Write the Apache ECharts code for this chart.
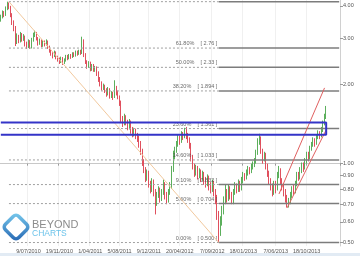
<!DOCTYPE html>
<html><head><meta charset="utf-8">
<script src="https://cdn.jsdelivr.net/npm/echarts@6/dist/echarts.min.js"></script>
<style>html,body{margin:0;padding:0;background:#fff}#c{width:360px;height:256px}</style>
</head><body><div id="c"></div>
<script>
// ---- data ----
const firstWeek = [2010, 2, 12];   // 12/03/2010, weekly bars (Fridays)
const weekCount = 209;
const tickLabels = ['9/07/2010','19/11/2010','1/04/2011','5/08/2011','9/12/2011','20/04/2012','7/09/2012','18/01/2013','7/06/2013','18/10/2013'];
const yTicks = [0.5,0.6,0.7,0.8,0.9,1,2,3,4];

const opens = [3.55,3.62,3.75,3.70,3.90,4.05,3.95,3.70,3.45,3.30,2.90,3.05,2.95,3.10,2.98,3.05,2.85,2.80,2.92,2.78,
2.95,3.10,3.15,3.00,2.88,2.95,2.82,2.90,2.85,2.92,2.78,2.70,2.62,2.58,2.66,2.55,2.50,2.45,2.52,2.42,
2.48,2.56,2.52,2.58,2.55,2.62,2.58,2.66,2.62,2.68,2.64,2.95,2.60,2.45,2.35,2.42,2.30,2.36,2.28,2.32,
2.22,2.10,2.02,1.95,1.98,1.90,1.86,1.92,1.82,1.85,1.80,1.95,1.88,1.80,1.72,1.48,1.42,1.50,1.45,1.38,
1.44,1.35,1.30,1.34,1.28,1.25,1.20,1.12,1.02,0.95,0.88,0.92,0.84,0.80,0.86,0.78,0.72,0.76,0.80,0.74,
0.78,0.84,0.76,0.73,0.78,0.82,0.95,1.08,1.12,1.18,1.25,1.22,1.30,1.27,1.33,1.28,1.24,1.18,1.06,0.98,
0.92,0.96,0.90,0.93,0.88,0.91,0.86,0.84,0.88,0.82,0.80,0.84,0.78,0.74,0.64,0.55,0.60,0.66,0.72,0.78,
0.74,0.80,0.76,0.72,0.78,0.82,0.79,0.84,0.80,0.86,0.90,0.88,0.92,0.95,0.93,0.97,0.99,1.02,1.10,1.22,
1.25,1.12,1.04,1.08,0.98,0.92,0.86,0.82,0.78,0.84,0.80,0.90,0.94,0.86,0.82,0.78,0.74,0.70,0.72,0.76,
0.80,0.78,0.84,0.90,0.88,0.94,0.98,0.96,1.02,1.08,1.05,1.14,1.18,1.22,1.19,1.26,1.30,1.27,1.34,1.42,1.50];
const closes = [3.62,3.75,3.70,3.90,4.05,3.95,3.70,3.45,3.30,2.90,3.05,2.95,3.10,2.98,3.05,2.85,2.80,2.92,2.78,2.95,
3.10,3.15,3.00,2.88,2.95,2.82,2.90,2.85,2.92,2.78,2.70,2.62,2.58,2.66,2.55,2.50,2.45,2.52,2.42,2.48,
2.56,2.52,2.58,2.55,2.62,2.58,2.66,2.62,2.68,2.64,2.95,2.60,2.45,2.35,2.42,2.30,2.36,2.28,2.32,2.22,
2.10,2.02,1.95,1.98,1.90,1.86,1.92,1.82,1.85,1.80,1.95,1.88,1.80,1.72,1.48,1.42,1.50,1.45,1.38,1.44,
1.35,1.30,1.34,1.28,1.25,1.20,1.12,1.02,0.95,0.88,0.92,0.84,0.80,0.86,0.78,0.72,0.76,0.80,0.74,0.78,
0.84,0.76,0.73,0.78,0.82,0.95,1.08,1.12,1.18,1.25,1.22,1.30,1.27,1.33,1.28,1.24,1.18,1.06,0.98,0.92,
0.96,0.90,0.93,0.88,0.91,0.86,0.84,0.88,0.82,0.80,0.84,0.78,0.74,0.64,0.55,0.60,0.66,0.72,0.78,0.74,
0.80,0.76,0.72,0.78,0.82,0.79,0.84,0.80,0.86,0.90,0.88,0.92,0.95,0.93,0.97,0.99,1.02,1.10,1.22,1.25,
1.12,1.04,1.08,0.98,0.92,0.86,0.82,0.78,0.84,0.80,0.90,0.94,0.86,0.82,0.78,0.74,0.70,0.72,0.76,0.80,
0.78,0.84,0.90,0.88,0.94,0.98,0.96,1.02,1.08,1.05,1.14,1.18,1.22,1.19,1.26,1.30,1.27,1.34,1.42,1.50,1.58];
const lows = [3.48,3.58,3.62,3.66,3.85,3.88,3.62,3.38,3.20,2.81,2.86,2.88,2.90,2.92,2.94,2.80,2.74,2.76,2.74,2.75,
2.92,3.04,2.95,2.82,2.84,2.78,2.79,2.80,2.82,2.74,2.65,2.58,2.52,2.55,2.50,2.45,2.40,2.42,2.38,2.40,
2.45,2.48,2.50,2.51,2.53,2.55,2.56,2.58,2.60,2.60,2.62,2.55,2.40,2.30,2.32,2.25,2.26,2.24,2.24,2.16,
2.05,1.97,1.90,1.91,1.86,1.80,1.82,1.77,1.78,1.75,1.78,1.82,1.76,1.66,1.44,1.38,1.40,1.40,1.34,1.35,
1.30,1.26,1.27,1.24,1.21,1.15,1.08,0.98,0.92,0.85,0.86,0.81,0.77,0.78,0.75,0.64,0.69,0.74,0.71,0.72,
0.76,0.73,0.70,0.71,0.76,0.80,0.93,1.04,1.10,1.16,1.18,1.20,1.23,1.25,1.24,1.20,1.14,1.02,0.95,0.89,
0.90,0.87,0.88,0.85,0.86,0.83,0.81,0.82,0.79,0.77,0.78,0.75,0.70,0.61,0.50,0.53,0.58,0.64,0.70,0.71,
0.72,0.73,0.70,0.70,0.76,0.77,0.78,0.78,0.79,0.84,0.86,0.87,0.90,0.91,0.92,0.95,0.97,1.00,1.08,1.18,
1.09,1.00,1.02,0.95,0.89,0.83,0.79,0.75,0.76,0.77,0.79,0.88,0.83,0.79,0.75,0.71,0.68,0.68,0.70,0.74,
0.76,0.77,0.82,0.86,0.87,0.92,0.93,0.95,1.00,1.02,1.04,1.12,1.16,1.16,1.18,1.24,1.24,1.26,1.32,1.40,1.48];
const highs = [3.70,3.84,3.82,3.98,4.15,4.12,4.00,3.75,3.52,3.35,3.14,3.10,3.18,3.15,3.12,3.08,2.92,2.98,2.96,3.02,
3.16,3.22,3.18,3.04,3.00,2.98,2.96,2.95,2.98,2.95,2.82,2.74,2.66,2.70,2.68,2.58,2.54,2.56,2.55,2.52,
2.60,2.60,2.62,2.62,2.66,2.66,2.70,2.70,2.72,2.72,3.05,2.98,2.64,2.48,2.46,2.45,2.40,2.40,2.36,2.35,
2.25,2.14,2.06,2.02,2.00,1.94,1.96,1.94,1.89,1.88,2.08,1.98,1.90,1.82,1.74,1.52,1.55,1.53,1.47,1.48,
1.46,1.38,1.37,1.36,1.31,1.28,1.22,1.14,1.04,0.97,0.95,0.94,0.86,0.88,0.87,0.80,0.78,0.82,0.81,0.80,
0.87,0.85,0.78,0.80,0.85,0.98,1.12,1.16,1.22,1.29,1.28,1.33,1.32,1.37,1.38,1.31,1.26,1.20,1.08,1.00,
0.99,0.98,0.96,0.95,0.94,0.93,0.89,0.91,0.90,0.85,0.87,0.86,0.80,0.76,0.66,0.63,0.69,0.75,0.83,0.80,
0.83,0.82,0.78,0.80,0.85,0.84,0.87,0.86,0.89,0.93,0.92,0.95,0.98,0.97,1.00,1.02,1.05,1.13,1.25,1.30,
1.27,1.14,1.11,1.10,1.00,0.94,0.88,0.84,0.86,0.86,0.93,0.98,0.96,0.88,0.84,0.80,0.76,0.74,0.78,0.82,
0.83,0.86,0.93,0.93,0.97,1.01,1.01,1.05,1.11,1.11,1.17,1.21,1.26,1.25,1.29,1.34,1.33,1.38,1.46,1.55,1.66];

const fibPct = ['100.00%','61.80%','50.00%','38.20%','23.60%','14.60%','9.10%','5.60%','0.00%'];
const fibPrice = [4.149,2.76,2.33,1.894,1.361,1.033,0.832,0.704,0.500];
const fibText = ['[ 4.149 ]','[ 2.76 ]','[ 2.33 ]','[ 1.894 ]','[ 1.361 ]','[ 1.033 ]','[ 0.832 ]','[ 0.704 ]','[ 0.500 ]'];
const swingHigh = [5, 4.149];
const swingLow = [134, 0.500];
const fibEnd = 208;
const boxTop = 1.434, boxBottom = 1.29, boxStart = 0, boxEnd = 200;
const channelUpper = [[171, 0.766], [199, 1.945]];
const channelLower = [[176, 0.678], [200, 1.345]];
const yMin = 0.485, yMax = 4.21;

// ---- build ----
const cats = [];
let t = Date.UTC(firstWeek[0], firstWeek[1], firstWeek[2]);
for (let i = 0; i < weekCount; i++) {
  const d = new Date(t);
  cats.push(d.getUTCDate() + '/' + String(d.getUTCMonth() + 1).padStart(2, '0') + '/' + d.getUTCFullYear());
  t += 7 * 86400000;
}
const tickSet = new Set(tickLabels);
const showTick = (idx, val) => tickSet.has(val);
const FONT = 'Liberation Sans';

const series = [];
fibPrice.forEach((p, k) => {
  series.push({type:'line', silent:true, symbol:'none', animation:false,
    data:[[swingHigh[0], p],[swingLow[0], p]],
    lineStyle:{color:'#a0a0a0', width:1, type:[2,2]}});
  series.push({type:'line', silent:true, symbol:'none', animation:false,
    data:[[swingLow[0], p],[fibEnd, p]],
    lineStyle:{color:'#7c7c7c', width:1.5}});
  if (k > 0) series.push({type:'scatter', silent:true, animation:false, symbolSize:1,
    itemStyle:{color:'rgba(0,0,0,0)'},
    data:[[swingLow[0], p]],
    label:{show:true, position:'left', distance:1, offset:[0,-4.5], fontFamily:FONT, fontSize:5.5, color:'#444',
      formatter: fibPct[k] + '    ' + fibText[k]}});
});
series.push({type:'line', silent:true, symbol:'none', animation:false,
  data:[swingHigh, swingLow], lineStyle:{color:'#f2c99e', width:1}});
series.push({type:'candlestick', animation:false, barMaxWidth:1.6,
  data: opens.map((o, i) => [o, closes[i], lows[i], highs[i]]),
  itemStyle:{color:'#5caf5c', color0:'#e0505e', borderColor:'#5caf5c', borderColor0:'#e0505e', borderWidth:1}});
series.push({type:'line', silent:true, symbol:'none', animation:false,
  data:channelUpper, lineStyle:{color:'#e06060', width:1}});
series.push({type:'line', silent:true, symbol:'none', animation:false,
  data:channelLower, lineStyle:{color:'#e06060', width:1}});
series.push({type:'line', silent:true, symbol:'none', animation:false,
  data:[[boxStart, boxTop],[boxEnd, boxTop],[boxEnd, boxBottom],[boxStart, boxBottom]],
  lineStyle:{color:'#3434c8', width:2}});

const chart = echarts.init(document.getElementById('c'), null, {renderer:'canvas'});
chart.setOption({
  backgroundColor:'#ffffff',
  animation:false,
  grid:{left:0, right:20, top:0, bottom:10, containLabel:false},
  xAxis:{type:'category', data:cats, boundaryGap:true,
    axisLine:{show:true, lineStyle:{color:'#c8c8c8'}},
    axisTick:{show:true, interval:showTick, length:2, lineStyle:{color:'#999'}},
    axisLabel:{interval:showTick, fontFamily:FONT, fontSize:5.5, color:'#555', margin:2},
    splitLine:{show:true, interval:showTick, lineStyle:{color:'#f0f0f0'}}},
  yAxis:[
    {type:'log', logBase:10, min:yMin, max:yMax, show:false, position:'right', splitLine:{show:false}},
    {type:'value', position:'right', min:Math.log10(yMin), max:Math.log10(yMax),
      axisLine:{show:true, lineStyle:{color:'#d0d0d0'}},
      axisTick:{show:true, length:3, customValues:yTicks.map(v => Math.log10(v)), lineStyle:{color:'#999'}},
      axisLabel:{customValues:yTicks.map(v => Math.log10(v)), margin:3, fontFamily:FONT, fontSize:5.5, color:'#555',
        formatter: v => Math.pow(10, v).toFixed(2)},
      splitLine:{show:false}}
  ],
  series: series,
  graphic:[
    {type:'rect', z:100, left:0, top:253, shape:{width:360, height:3}, style:{fill:'#e2ebf4'}, silent:true},
    {type:'rect', z:100, x:16, y:227, rotation:Math.PI/4, shape:{x:-9.5, y:-9.5, width:19, height:19, r:4},
      style:{fill:'none', lineWidth:3.5, stroke:{type:'linear', x:0, y:1, x2:1, y2:0,
        colorStops:[{offset:0, color:'#1f5fae'},{offset:1, color:'#7fd2f2'}]}}, silent:true},
    {type:'text', z:100, left:32, top:219, style:{text:'BEYOND', fontFamily:FONT, fontSize:11, fill:'#8c8c8c'}, silent:true},
    {type:'text', z:100, left:32, top:229, style:{text:'CHARTS', fontFamily:FONT, fontSize:8.5, fill:'#6cc3ea'}, silent:true}
  ]
});
</script>
</body></html>
